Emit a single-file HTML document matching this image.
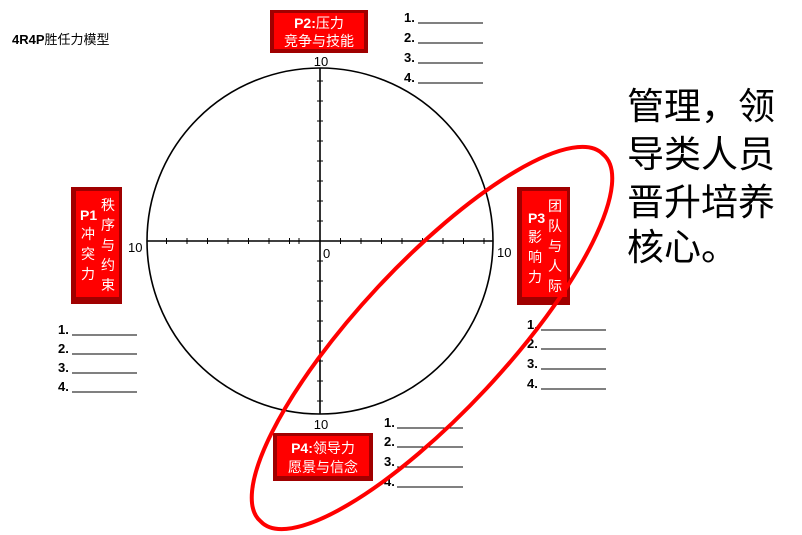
<!DOCTYPE html>
<html><head><meta charset="utf-8"><style>
html,body{margin:0;padding:0;background:#fff;width:802px;height:535px;overflow:hidden;}
svg{display:block}
text{font-family:"Liberation Sans","Noto Sans CJK SC",sans-serif;}
</style></head><body>
<svg width="802" height="535" viewBox="0 0 802 535" xmlns="http://www.w3.org/2000/svg">
<text x="12" y="44" font-size="13" font-weight="bold">4R4P<tspan font-weight="normal">胜任力模型</tspan></text>

<circle cx="320" cy="241" r="173" fill="none" stroke="#000" stroke-width="1.6"/>
<line x1="147" y1="241" x2="493" y2="241" stroke="#000" stroke-width="1.6"/>
<line x1="320" y1="68" x2="320" y2="414" stroke="#000" stroke-width="1.6"/>
<g stroke="#000" stroke-width="1">
<line x1="166.5" y1="238" x2="166.5" y2="244"/><line x1="187" y1="238" x2="187" y2="244"/><line x1="207.5" y1="238" x2="207.5" y2="244"/><line x1="228" y1="238" x2="228" y2="244"/><line x1="248.5" y1="238" x2="248.5" y2="244"/><line x1="269" y1="238" x2="269" y2="244"/><line x1="289.5" y1="238" x2="289.5" y2="244"/><line x1="299" y1="238" x2="299" y2="244"/>
<line x1="340.5" y1="238" x2="340.5" y2="244"/><line x1="361" y1="238" x2="361" y2="244"/><line x1="381.5" y1="238" x2="381.5" y2="244"/><line x1="402" y1="238" x2="402" y2="244"/><line x1="422.5" y1="238" x2="422.5" y2="244"/><line x1="443" y1="238" x2="443" y2="244"/><line x1="463.5" y1="238" x2="463.5" y2="244"/><line x1="484" y1="238" x2="484" y2="244"/>
<line x1="317" y1="81" x2="323" y2="81"/><line x1="317" y1="101" x2="323" y2="101"/><line x1="317" y1="121" x2="323" y2="121"/><line x1="317" y1="141" x2="323" y2="141"/><line x1="317" y1="161" x2="323" y2="161"/><line x1="317" y1="181" x2="323" y2="181"/><line x1="317" y1="201" x2="323" y2="201"/><line x1="317" y1="221" x2="323" y2="221"/>
<line x1="317" y1="261" x2="323" y2="261"/><line x1="317" y1="281" x2="323" y2="281"/><line x1="317" y1="301" x2="323" y2="301"/><line x1="317" y1="321" x2="323" y2="321"/><line x1="317" y1="341" x2="323" y2="341"/><line x1="317" y1="361" x2="323" y2="361"/><line x1="317" y1="381" x2="323" y2="381"/><line x1="317" y1="401" x2="323" y2="401"/>
</g>
<g font-size="13">
<text x="321" y="66" text-anchor="middle">10</text>
<text x="128" y="252">10</text>
<text x="497" y="257">10</text>
<text x="323" y="258">0</text>
<text x="321" y="429" text-anchor="middle">10</text>
</g>

<g>
<rect x="270" y="10" width="98" height="43" fill="#a00000"/>
<rect x="274" y="13" width="90" height="36" fill="#f00"/>
<text x="319" y="28" font-size="14" fill="#fff" text-anchor="middle"><tspan font-weight="bold">P2:</tspan>压力</text>
<text x="319" y="46" font-size="14" fill="#fff" text-anchor="middle">竞争与技能</text>

<rect x="71" y="187" width="51" height="117" fill="#a00000"/>
<rect x="76" y="191" width="43" height="106" fill="#f00"/>
<text x="80" y="220" font-size="14" fill="#fff" font-weight="bold">P1</text>
<text x="81" y="239" font-size="14" fill="#fff">冲</text>
<text x="81" y="259" font-size="14" fill="#fff">突</text>
<text x="81" y="279" font-size="14" fill="#fff">力</text>
<text x="101" y="210" font-size="14" fill="#fff">秩</text>
<text x="101" y="230" font-size="14" fill="#fff">序</text>
<text x="101" y="250" font-size="14" fill="#fff">与</text>
<text x="101" y="270" font-size="14" fill="#fff">约</text>
<text x="101" y="290" font-size="14" fill="#fff">束</text>

<rect x="517" y="187" width="53" height="118" fill="#a00000"/>
<rect x="522" y="191" width="45" height="106" fill="#f00"/>
<text x="528" y="223" font-size="14" fill="#fff" font-weight="bold">P3</text>
<text x="528" y="242" font-size="14" fill="#fff">影</text>
<text x="528" y="262" font-size="14" fill="#fff">响</text>
<text x="528" y="282" font-size="14" fill="#fff">力</text>
<text x="548" y="211" font-size="14" fill="#fff">团</text>
<text x="548" y="231" font-size="14" fill="#fff">队</text>
<text x="548" y="251" font-size="14" fill="#fff">与</text>
<text x="548" y="271" font-size="14" fill="#fff">人</text>
<text x="548" y="291" font-size="14" fill="#fff">际</text>

<rect x="273" y="433" width="100" height="48" fill="#a00000"/>
<rect x="277" y="436" width="92" height="40" fill="#f00"/>
<text x="323" y="453" font-size="14" fill="#fff" text-anchor="middle"><tspan font-weight="bold">P4:</tspan>领导力</text>
<text x="323" y="472" font-size="14" fill="#fff" text-anchor="middle">愿景与信念</text>
</g>

<g stroke="#000" stroke-width="1">
<line x1="418" y1="23" x2="483" y2="23"/><line x1="418" y1="43" x2="483" y2="43"/><line x1="418" y1="63" x2="483" y2="63"/><line x1="418" y1="83" x2="483" y2="83"/>
<line x1="72" y1="335" x2="137" y2="335"/><line x1="72" y1="354" x2="137" y2="354"/><line x1="72" y1="373" x2="137" y2="373"/><line x1="72" y1="392" x2="137" y2="392"/>
<line x1="541" y1="330" x2="606" y2="330"/><line x1="541" y1="349" x2="606" y2="349"/><line x1="541" y1="369" x2="606" y2="369"/><line x1="541" y1="389" x2="606" y2="389"/>
<line x1="397" y1="428" x2="463" y2="428"/><line x1="397" y1="447" x2="463" y2="447"/><line x1="397" y1="467" x2="463" y2="467"/><line x1="397" y1="487" x2="463" y2="487"/>
</g>
<g font-size="13" fill="#000" font-weight="bold">
<text x="404" y="22">1.</text><text x="404" y="42">2.</text><text x="404" y="62">3.</text><text x="404" y="82">4.</text>
<text x="58" y="334">1.</text><text x="58" y="353">2.</text><text x="58" y="372">3.</text><text x="58" y="391">4.</text>
<text x="527" y="329">1.</text><text x="527" y="348">2.</text><text x="527" y="368">3.</text><text x="527" y="388">4.</text>
<text x="384" y="427">1.</text><text x="384" y="446">2.</text><text x="384" y="466">3.</text><text x="384" y="486">4.</text>
</g>

<path d="M603.2 154.5 A251 73 -47 1 0 260.8 521.5 A251 73 -47 1 0 603.2 154.5 Z" fill="none" stroke="#f00" stroke-width="4"/>

<g font-size="37" font-family="'Noto Sans CJK SC',sans-serif">
<text x="627" y="119">管理，领</text>
<text x="627" y="167">导类人员</text>
<text x="627" y="215">晋升培养</text>
<text x="627" y="260">核心。</text>
</g>
</svg>
</body></html>
